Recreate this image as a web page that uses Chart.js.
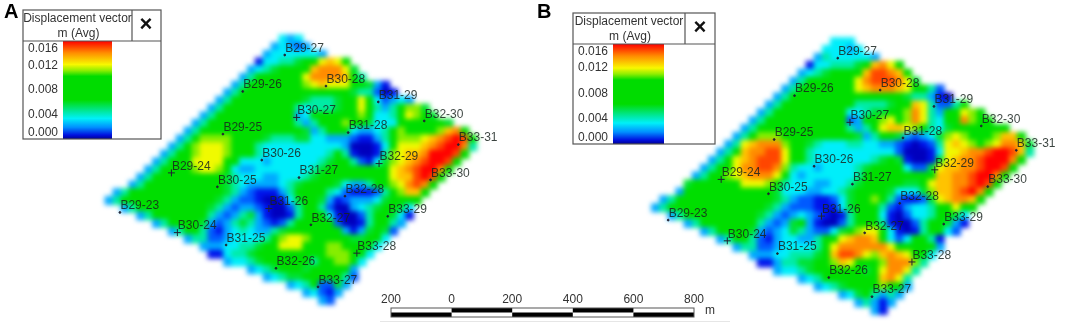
<!DOCTYPE html>
<html><head><meta charset="utf-8">
<style>
html,body{margin:0;padding:0;background:#fff;width:1065px;height:326px;overflow:hidden}
canvas{position:absolute;left:0;top:0}
#heat{filter:blur(2.6px)}
#over{filter:blur(0.45px)}
</style>
<script src="https://cdn.jsdelivr.net/npm/chart.js@4/dist/chart.umd.min.js"></script>
</head><body>
<canvas id="heat" width="1065" height="326"></canvas>
<canvas id="over" width="1065" height="326"></canvas>
<script>
// Displacement (mm, one base-17 digit per grid cell, 0..g = 0..16)
const rowStarts=[22,21,20,19,18,17,16,15,14,13,12,11,10,9,8,7,6,5,4,3,1,0,2,4,6,8,10,12,13,15,18,20,23,25,27];
const mapA=[
"434","34323","34444443","14455679cdc7","3456788adeeec6","35788888ceeeeda5",
"3578 88888 bcdccca7631",
"3578 8888888 9888 7655 201",
"3578 888888 765556 79c9 42343",
"3578 8888888 545556 89ca 535 7bb6",
"3578 8888888 734 7889a9 b9 445 9cba6",
"3578 888888888 5357 9aba 8644 47 9aaa96",
"3578 88888888888 635787 43345 9baaaabde7",
"35abbbb8 88865556 64433321 135abbbc defgf7",
"357bcccb 88954444 44444430 0014accc defgge5",
"357abccc b8795444 44444575 10015bcd degggf8",
"3578accc ca744434 44444568 85214 6bc defggf8",
"357889bc cb843344 44444567 88778 89c defgge7",
"35788888 88765444 33444567 88777 89a cddfgf9",
"35788888 88876543 33345678 87643357 8bcefe8",
"35788888 88888765 32111357 88754211 1258bdd9",
"35788888 88888765 32210014 68863123 334689a7",
"357 8888888 765323321002578520034 56776 4",
"357 88888 75323563100157884100 2578641",
"357 888 63235653212578997200 157753",
"3577 5213454335689aaa97313686 2",
"35522344445 7bccbaaa97668 74",
"33344556 78ccca9abba9874",
"114556 7889a987 8bbba74",
"34 4567888875 7abb84",
"34567776 78aa83",
"345667898852","34572263","34213","32"];
const mapB=[
"444","44434","35444443","1445556adec7","3456788adffed7","35788888cefffec6",
"3578 88888 cdeeedca752",
"3578 8888888 a988 7655 310",
"3578 888888 755556 79dc 52257",
"3578 8888888 445667 8bec 537 9cb7",
"3578 8888888 723 79bcab ec 547 9eba7",
"3578 888888888 535 8cddcb 85 4 6 8 9 aaaa 7",
"35abbb88 87777776 35786323 46bcbaaa bdd9",
"35cdeeeb 87654445 54433210 125cdcba bceed6",
"359deeff c8854444 44444420 0014ccde efggfd5",
"358cdeff fc885444 44445 6a6 1001 6cde efggge7",
"3589ceef feb54434 44456789 84226cdd eefggf7",
"3579bcde eec84344 44445788 88778add eefgge7",
"68aa88ac ccb85444 33445678 887668cd deefgfa",
"37aaaaa9 98876444 33445678 9864446b ddefge9",
"3589aaaa a9988765 32211246 89b85211 26cdeed8",
"3578 888888888 7653222 11146 88852 13445 8aca7",
"357 8888888 765323432101578741024457864",
"357 88888 753236731002579951 00 2578631",
"357 888 6323465322468bcca410157742",
"3577 5213443 3579cdeed942478 51",
"355223444457 ceeeeeeca87 973",
"33344555 68dffecbdedca84",
"1135566 78bdc9 77beeeb5",
"344 5678888 768ceec5",
"345 78888 79dec5",
"345678 8aba73",
"34675353","35313","31"];
const wellNames=["B29-27","B30-28","B29-26","B31-29","B30-27","B32-30","B29-25","B31-28","B33-31","B30-26","B32-29","B29-24","B31-27","B33-30","B30-25","B32-28","B31-26","B33-29","B29-23","B32-27","B30-24","B31-25","B33-28","B32-26","B33-27"];
const wellCols=[22.8,28,17.5,34.6,24.3,40.4,15,30.8,44.7,19.9,34.7,8.5,24.6,41.2,14.3,30.4,20.8,35.8,2,26.1,9.25,15.4,31.9,21.7,27];
const wellRows=[2.7,6.7,7.4,8.75,10.75,11.2,12.9,12.7,14.25,16.25,16.7,17.9,18.5,18.8,19.7,20.9,22.5,23.5,23,24.6,25.6,27.2,28.25,30.2,32.6];
const crossWells=["B30-27","B32-29","B29-24","B31-26","B30-24","B33-28"];
const legendTicks=["0.016","0.012","0.008","0.004","0.000"];
const scaleTicks=["200","0","200","400","600","800"];

const ramp=[[0,0,0,190],[1,0,20,235],[2,0,90,255],[3,0,170,255],[4,0,238,250],[5,0,236,165],[6,0,226,50],[7,0,222,0],[10,0,222,0],[10.6,90,235,0],[11.5,190,242,0],[12,240,250,0],[13,255,195,0],[14,255,140,0],[15,255,70,0],[16,255,0,0]];
function col(v){
  for(let i=1;i<ramp.length;i++){ if(v<=ramp[i][0]){const a=ramp[i-1],b=ramp[i],t=(v-a[0])/(b[0]-a[0]);
    return `rgb(${[1,2,3].map(k=>Math.round(a[k]+(b[k]-a[k])*t)).join(",")})`;}}
  return "rgb(255,0,0)";
}
const frames={A:{ox:100,oy:30,c:8,lg:[23,10,161,139,41,132,63,112,28],ty:[49,66,90,115,133],tx:77.5,xx:146,letter:[4,"A"]},
              B:{ox:653,oy:32.6,c:8.23,lg:[573,13,715,144,44,685,613,664,578],ty:[52,68,94,119,138],tx:629,xx:700,letter:[537,"B"]}};
function cells(rows,f){
  const out=[];
  rows.forEach((s,r)=>{[...s.replace(/ /g,"")].forEach((ch,i)=>{
    out.push({x:f.ox+f.c*(rowStarts[r]+i+.5),y:f.oy+f.c*(r+.5),v:parseInt(ch,17)});
  });});
  return out;
}
function wells(f){
  return wellNames.map((n,i)=>({x:f.ox+f.c*wellCols[i],y:f.oy+f.c*wellRows[i],name:n}));
}
const pxScales={x:{type:"linear",min:0,max:1065,display:false},y:{type:"linear",min:0,max:326,reverse:true,display:false}};
const base={responsive:false,animation:false,events:[],layout:{padding:0},plugins:{legend:{display:false},tooltip:{enabled:false}},scales:pxScales};

new Chart(document.getElementById("heat"),{type:"scatter",
  data:{datasets:[mapA,mapB].map((rows,i)=>({
    label:i?"B":"A",data:cells(rows,i?frames.B:frames.A),
    pointStyle:"rect",pointRadius:6.4,pointBorderWidth:0,borderWidth:0,
    pointBackgroundColor:c=>col(c.raw.v)}))},
  options:base});

const FONT='"Liberation Sans",Arial,sans-serif';
const overlay={id:"overlay",afterDatasetsDraw(ch){
  const g=ch.ctx,X=ch.scales.x,Y=ch.scales.y;
  g.save();
  g.font="12px "+FONT;g.fillStyle="rgba(25,35,30,.85)";g.textBaseline="middle";g.textAlign="left";
  ch.data.datasets.forEach(ds=>ds.data.forEach(p=>g.fillText(p.name,X.getPixelForValue(p.x)+0.5,Y.getPixelForValue(p.y)-6.5)));
  for(const k of ["A","B"]){
    const f=frames[k],[l,t,r,b,hy,vx,bl,br,tl]=f.lg;
    const gr=g.createLinearGradient(0,hy,0,b);
    [[0,"#ff0000"],[.12,"#ff8c00"],[.24,"#f8f800"],[.3,"#90ee00"],[.36,"#00dc00"],[.6,"#00dc00"],[.72,"#00e8a0"],[.79,"#00f0f8"],[.88,"#0090ff"],[.96,"#0010e0"],[1,"#000090"]].forEach(s=>gr.addColorStop(s[0],s[1]));
    g.fillStyle=gr;g.fillRect(bl,hy,br-bl,b-hy);
    g.strokeStyle="#555";g.lineWidth=1.2;g.strokeRect(l,t,r-l,b-t);
    g.beginPath();g.moveTo(l,hy);g.lineTo(r,hy);g.moveTo(vx,t);g.lineTo(vx,hy);g.stroke();
    g.fillStyle="#333";g.textAlign="center";g.font="12px "+FONT;
    g.fillText("Displacement vector",f.tx,t+8.5);g.fillText("m (Avg)",f.tx+1,t+24);
    g.textAlign="left";
    legendTicks.forEach((s,i)=>g.fillText(s,tl,f.ty[i]));
    g.textAlign="center";g.fillStyle="#111";g.font="bold 22px "+FONT;g.fillText("\u00d7",f.xx,t+15);
    g.font="bold 20px "+FONT;g.fillStyle="#000";g.textAlign="left";g.fillText(f.letter[1],f.letter[0],12);
  }
  const sx=i=>391+60.6*i;
  g.fillStyle="#000";
  for(let i=0;i<5;i++){ g.fillRect(sx(i),i%2?308:312.5,60.6,4.5); }
  g.strokeStyle="#555";g.lineWidth=1;g.strokeRect(391,308,303,9);
  g.strokeStyle="#e6e6e6";g.beginPath();g.moveTo(380,321.5);g.lineTo(730,321.5);g.stroke();
  g.fillStyle="#333";g.font="12px "+FONT;g.textAlign="center";
  scaleTicks.forEach((s,i)=>g.fillText(s,sx(i),300));
  g.fillText("m",710,310.5);
  g.restore();
}};
new Chart(document.getElementById("over"),{type:"scatter",
  data:{datasets:["A","B"].map(k=>({label:k,data:wells(frames[k]),
    pointStyle:c=>crossWells.includes(c.raw.name)?"cross":"circle",
    pointRadius:c=>crossWells.includes(c.raw.name)?3.5:0.9,
    pointBorderWidth:1,pointBorderColor:"#223",pointBackgroundColor:"#223"}))},
  options:base,plugins:[overlay]});
</script>
</body></html>
